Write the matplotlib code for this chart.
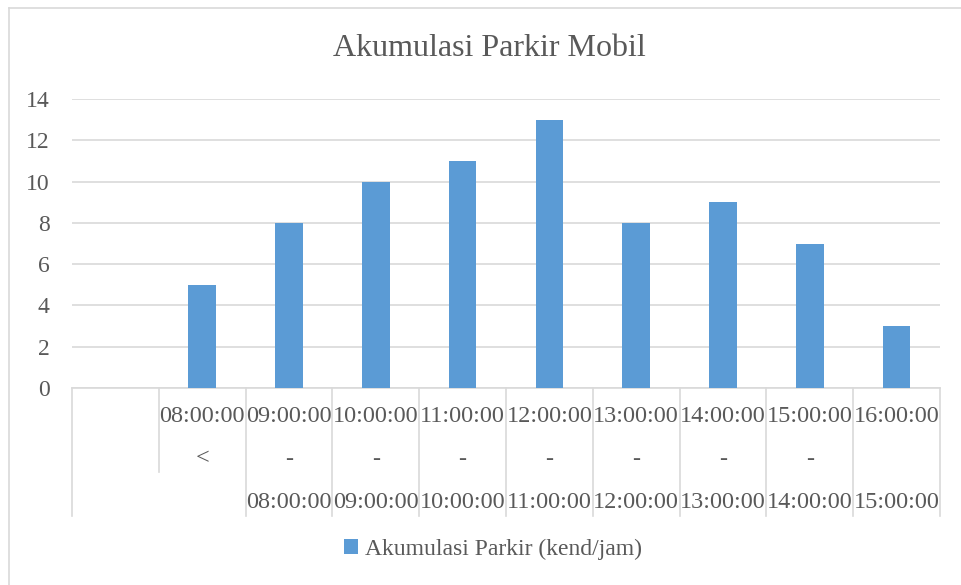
import matplotlib
matplotlib.use('Agg')
import matplotlib.pyplot as plt
from matplotlib.lines import Line2D

# -----------------------------------------------------------------------
# Data
# -----------------------------------------------------------------------
positions = list(range(10))
values = [None, 5, 8, 10, 11, 13, 8, 9, 7, 3]
label_top = ["", "08:00:00", "09:00:00", "10:00:00", "11:00:00", "12:00:00",
             "13:00:00", "14:00:00", "15:00:00", "16:00:00"]
label_mid = ["", "<", "-", "-", "-", "-", "-", "-", "-", ""]
label_bot = ["", "", "08:00:00", "09:00:00", "10:00:00", "11:00:00",
             "12:00:00", "13:00:00", "14:00:00", "15:00:00"]
series_name = "Akumulasi Parkir (kend/jam)"
title = "Akumulasi Parkir Mobil"

BAR_COLOR = '#5B9BD5'
GRID_COLOR = '#d9d9d9'
TEXT_COLOR = '#595959'
FONT = 'Liberation Serif'

plt.rcParams['font.family'] = FONT

W, H = 961, 585
fig = plt.figure(figsize=(W / 100, H / 100), dpi=100)
ax = fig.add_axes([72 / W, 1 - 388 / H, (940 - 72) / W, (388 - 99) / H])

xs = [p for p, v in zip(positions, values) if v is not None]
ys = [v for v in values if v is not None]
ax.bar(xs, ys, width=0.32, color=BAR_COLOR, label=series_name, zorder=3)

ax.set_xlim(-0.5, len(positions) - 0.5)
ax.set_ylim(0, 14)
ax.set_yticks(range(0, 15, 2))
ax.tick_params(axis='y', length=0, labelsize=17, labelcolor=TEXT_COLOR, pad=16)
ax.set_xticks([])
ax.grid(axis='y', color=GRID_COLOR, linewidth=1.2, zorder=0)
for s in ['top', 'right', 'left']:
    ax.spines[s].set_visible(False)
ax.spines['bottom'].set_color(GRID_COLOR)
ax.spines['bottom'].set_linewidth(1.2)

# multi-level category axis
tr = ax.get_xaxis_transform()
ax_h = 388 - 99
row_y = [(388 - 416) / ax_h, (388 - 459) / ax_h, (388 - 502) / ax_h]
for p, t, m, b in zip(positions, label_top, label_mid, label_bot):
    for txt, y in zip((t, m, b), row_y):
        if txt:
            ax.text(p, y, txt, transform=tr, ha='center', va='center',
                    fontsize=17.5, color=TEXT_COLOR, clip_on=False)

full_end = (388 - 516) / ax_h
short_end = (388 - 472) / ax_h
for i in range(len(positions) + 1):
    xb = i - 0.5
    y_end = short_end if i == 1 else full_end
    ax.plot([xb, xb], [0, y_end], transform=tr, color=GRID_COLOR,
            linewidth=1.2, clip_on=False)

fig.text(489 / W, 1 - 49 / H, title, ha='center', va='center',
         fontsize=23, color=TEXT_COLOR)

fig.legend(loc='center', bbox_to_anchor=(493 / W, 1 - 549 / H), frameon=False,
           fontsize=17, labelcolor=TEXT_COLOR, handlelength=0.6,
           handleheight=0.6, handletextpad=0.3)

# chart area border (partly cropped in the reference)
fig.add_artist(Line2D([9 / W, 9 / W], [0, 1 - 8 / H], transform=fig.transFigure,
                      color=GRID_COLOR, linewidth=1.2))
fig.add_artist(Line2D([9 / W, 1], [1 - 8 / H, 1 - 8 / H], transform=fig.transFigure,
                      color=GRID_COLOR, linewidth=1.2))

plt.savefig('out.png', dpi=100)
plt.close()
